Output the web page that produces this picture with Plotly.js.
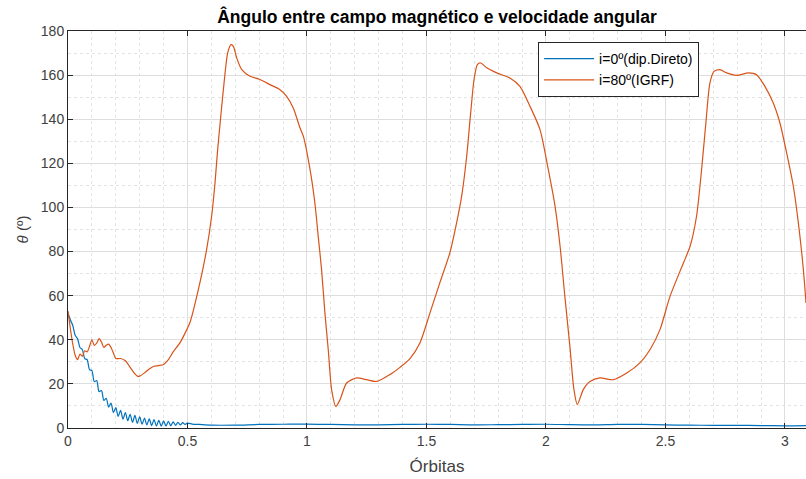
<!DOCTYPE html>
<html>
<head>
<meta charset="utf-8">
<script src="https://cdn.plot.ly/plotly-3.0.1.min.js"></script>
<style>html,body{margin:0;padding:0;overflow:hidden;background:#fff}</style>
</head>
<body>
<div id="chart" style="width:806px;height:479px"></div>
<script>
// Series 1: i=0º (dip. Direto)
const blueX = [0,0.01,0.02,0.03,0.04,0.05,0.06,0.07,0.08,0.09,0.10,0.11,0.12,0.13,0.14,0.15,0.16,0.17,0.18,0.19,0.20,
  0.21,0.22,0.23,0.24,0.25,0.26,0.27,0.28,0.29,0.30,0.31,0.32,0.33,0.34,0.35,0.36,0.37,0.38,0.39,0.40,
  0.41,0.42,0.43,0.44,0.45,0.46,0.47,0.48,0.49,0.50,0.52,0.55,0.6,0.7,0.8,0.9,1.0,1.1,1.2,1.3,1.4,1.5,1.6,1.7,1.8,1.9,2.0,2.1,2.2,2.3,2.4,2.5,2.6,2.7,2.8,2.9,3.0,3.09];
const blueY = [52,49,46.5,42,40.5,36.5,35.5,31.5,31,26.5,26,21,21.5,16.5,17,12.5,13.5,9.5,11.3,7,9.2,
  5.3,8,4,7,3.3,6.2,2.6,5.7,2.1,5,1.7,4.5,1.4,4.1,1.1,3.8,0.9,3.5,0.8,3.2,
  0.9,3,1.0,2.8,1.2,2.6,1.4,2.4,1.6,2.2,1.8,1.6,1.3,1.3,1.6,1.7,1.8,1.6,1.4,1.4,1.6,1.7,1.6,1.4,1.5,1.6,1.7,1.5,1.4,1.6,1.6,1.4,1.3,1.2,1.2,1.1,1.0,1.1];

// Series 2: i=80º (IGRF)
const orangeX = [0,0.01,0.02,0.03,0.04,0.05,0.06,0.07,0.08,0.09,0.10,0.11,0.12,0.13,0.14,0.15,0.16,0.17,0.18,0.19,0.20,
  0.22,0.24,0.26,0.28,0.29,0.30,0.32,0.34,0.36,0.38,0.40,0.42,0.44,0.469,0.497,0.51,0.552,0.58,0.601,0.615,0.626,0.639,0.653,0.668,0.682,0.692,0.706,0.727,0.762,0.803,0.845,0.887,0.915,0.943,0.971,0.985,1.013,1.033,1.047,1.061,1.075,1.089,1.103,1.121,1.138,1.166,1.208,1.25,1.292,1.347,1.389,1.431,1.473,1.515,1.556,1.598,1.626,1.647,1.668,1.685,1.699,1.713,1.727,1.752,1.794,1.849,1.891,1.933,1.975,2.01,2.038,2.059,2.079,2.1,2.117,2.131,2.156,2.184,2.226,2.282,2.338,2.393,2.435,2.477,2.519,2.575,2.603,2.63,2.651,2.669,2.686,2.703,2.728,2.756,2.798,2.847,2.881,2.916,2.951,2.979,3.007,3.035,3.056,3.077,3.088];
const orangeY = [53,45,38,33,31,33.5,32.5,35,34.5,37,40,37.5,38.5,40.5,39,36.5,37.5,38,36.5,34,31.5,
  31.5,30.5,27.5,24.5,23.5,23.5,25,26.8,28,28.3,28.8,31,34.5,38.7,44.6,47.7,65.9,80.9,96,111,126,141,156.5,170,173.8,173,167.8,162.5,159.5,158,155.7,153.4,150.4,145,136,132.2,117,102,86.9,71.8,52.2,35.5,17.4,9.8,12.8,20.4,22.7,21.9,21.1,24.2,27.5,31.5,38.7,52.3,65.9,79.5,93,105,123,143,158,164.8,165.5,163.3,161,158.7,154.9,145.9,135.3,117,100.5,82.4,59.7,37,17.4,10.6,17.4,21.1,22.7,21.9,24.9,29.5,35.5,44.6,59.7,74.8,82.4,96,117,138.3,156.5,161.7,162.5,161,159.9,161,160.2,154.9,147.4,138.3,124.7,109.6,93,71.8,56.7];

const seriesNames = ['i=0º(dip.Direto)', 'i=80º(IGRF)'];
const xTickVals = [0, 0.5, 1, 1.5, 2, 2.5, 3];
const xTickText = ['0', '0.5', '1', '1.5', '2', '2.5', '3'];
const yTickVals = [0, 20, 40, 60, 80, 100, 120, 140, 160, 180];

const FONT = 'Liberation Sans, Arial, Helvetica, sans-serif';

const traces = [
  {x: blueX, y: blueY, name: seriesNames[0], type: 'scatter', mode: 'lines',
   line: {color: '#0072BD', width: 1.2, shape: 'spline', smoothing: 0.8}},
  {x: orangeX, y: orangeY, name: seriesNames[1], type: 'scatter', mode: 'lines',
   line: {color: '#D95319', width: 1.2, shape: 'spline', smoothing: 0.7}}
];

const layout = {
  width: 806, height: 479,
  margin: {l: 68, r: 0, t: 31, b: 51},
  paper_bgcolor: '#fff', plot_bgcolor: '#fff',
  font: {family: FONT, color: '#262626'},
  title: {text: '<b>Ângulo entre campo magnético e velocidade angular</b>',
          font: {family: FONT, size: 17.5, color: '#000'},
          x: 0.5, xref: 'paper', xanchor: 'center', y: 0.965, yref: 'container', yanchor: 'middle'},
  showlegend: true,
  legend: {x: 0.637, y: 0.972, xanchor: 'left', yanchor: 'top',
           bgcolor: '#fff', bordercolor: '#262626', borderwidth: 1, itemwidth: 50,
           font: {family: FONT, size: 14, color: '#000'}, tracegroupgap: 0},
  xaxis: {
    range: [0, 3.088], tickvals: xTickVals, ticktext: xTickText,
    showline: true, linecolor: '#262626', linewidth: 1, mirror: 'allticks',
    ticks: 'inside', ticklen: 5, tickcolor: '#262626',
    showgrid: true, gridcolor: '#dedede', gridwidth: 1, zeroline: false,
    tickfont: {family: FONT, size: 14, color: '#404040'},
    title: {text: 'Órbitas', font: {family: FONT, size: 17, color: '#404040'}, standoff: 12},
    minor: {dtick: 0.1, showgrid: true, gridcolor: '#e4e4e4', griddash: 'dot', gridwidth: 1}
  },
  yaxis: {
    range: [0, 180], tickvals: yTickVals,
    showline: true, linecolor: '#262626', linewidth: 1, mirror: false,
    ticks: 'inside', ticklen: 5, tickcolor: '#262626',
    showgrid: true, gridcolor: '#dedede', gridwidth: 1, zeroline: false,
    tickfont: {family: FONT, size: 14, color: '#404040'},
    title: {text: '<i>θ</i> (º)', font: {family: FONT, size: 15, color: '#404040'}, standoff: 8},
    minor: {dtick: 10, showgrid: true, gridcolor: '#e4e4e4', griddash: 'dot', gridwidth: 1}
  }
};

Plotly.newPlot('chart', traces, layout, {displayModeBar: false, staticPlot: true});
</script>
</body>
</html>
